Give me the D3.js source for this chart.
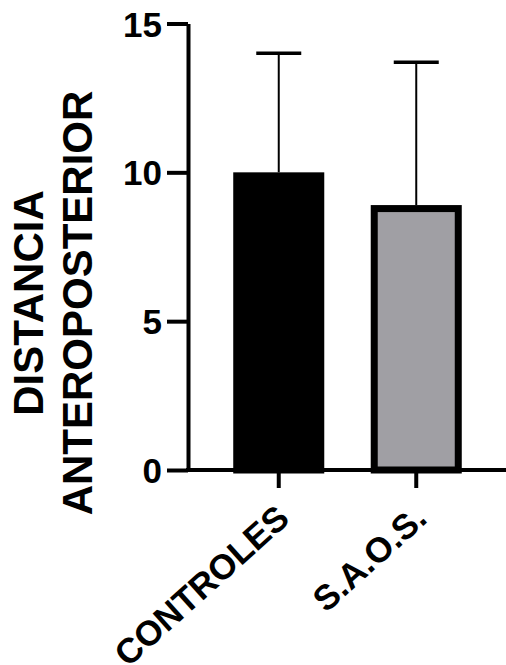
<!DOCTYPE html>
<html>
<head>
<meta charset="utf-8">
<script src="https://cdn.jsdelivr.net/npm/d3@7"></script>
<style>
body { margin: 0; background: #fff; }
text { font-family: "Liberation Sans", Arial, sans-serif; font-weight: bold; fill: #000; }
</style>
</head>
<body>
<div id="chart"></div>
<script>
var groups = ["CONTROLES", "S.A.O.S."];
var means = [10.0, 8.9];
var sds = [4.0, 4.8];
var fills = ["#000000", "#a09fa4"];
var yTicks = [0, 5, 10, 15];
var titleLines = ["DISTANCIA", "ANTEROPOSTERIOR"];

var svg_size = {w:506, h:665};

var svg = d3.select("#chart")
	.append("svg")
	.attr("width", svg_size.w)
	.attr("height", svg_size.h);

var y = d3.scaleLinear().domain([0, 15]).range([470, 23.5]);
var x = d3.scaleBand()
	.domain(groups)
	.range([210, 485])
	.paddingInner(0.338)
	.paddingOuter(0.169);

var data = groups.map(function(g, i) {
	return {name: g, mean: means[i], sd: sds[i], fill: fills[i]};
});

var bw = 7; // border of the bars, drawn inside

// bars
svg.selectAll("rect.bar")
	.data(data).enter()
	.append("rect")
	.attr("class", "bar")
	.attr("x", function(d) { return x(d.name) + bw/2; })
	.attr("y", function(d) { return y(d.mean) + bw/2; })
	.attr("width", x.bandwidth() - bw)
	.attr("height", function(d) { return y(0) - y(d.mean) - bw/2; })
	.attr("fill", function(d) { return d.fill; })
	.attr("stroke", "#000")
	.attr("stroke-width", bw);

// error bars (upper only)
svg.selectAll("line.err")
	.data(data).enter()
	.append("line")
	.attr("x1", function(d) { return x(d.name) + x.bandwidth()/2; })
	.attr("x2", function(d) { return x(d.name) + x.bandwidth()/2; })
	.attr("y1", function(d) { return y(d.mean); })
	.attr("y2", function(d) { return y(d.mean + d.sd); })
	.attr("stroke", "#000")
	.attr("stroke-width", 2);

svg.selectAll("line.cap")
	.data(data).enter()
	.append("line")
	.attr("x1", function(d) { return x(d.name) + x.bandwidth()/2 - 22.5; })
	.attr("x2", function(d) { return x(d.name) + x.bandwidth()/2 + 22.5; })
	.attr("y1", function(d) { return y(d.mean + d.sd); })
	.attr("y2", function(d) { return y(d.mean + d.sd); })
	.attr("stroke", "#000")
	.attr("stroke-width", 3.5);

// y axis
var yAxis = svg.append("g")
	.attr("transform", "translate(188,0)")
	.call(d3.axisLeft(y).tickValues(yTicks).tickSize(21).tickSizeOuter(0).tickPadding(5));
yAxis.select(".domain").attr("stroke-width", 4);
yAxis.selectAll(".tick line").attr("stroke-width", 4);
yAxis.selectAll(".tick text")
	.style("font-size", "35px")
	.attr("dy", "0.36em");

// x axis
var xAxis = svg.append("g")
	.attr("transform", "translate(0," + y(0) + ")")
	.call(d3.axisBottom(x).tickSize(18).tickSizeOuter(0));
xAxis.select(".domain")
	.attr("d", "M186,0H506")
	.attr("stroke-width", 4);
xAxis.selectAll(".tick line").attr("stroke-width", 4);
xAxis.selectAll(".tick text")
	.style("font-size", "35px")
	.attr("text-anchor", "end")
	.attr("dy", null)
	.attr("y", 0)
	.attr("transform", "translate(12.5,51) rotate(-42)");

// y title
var title = svg.append("text")
	.attr("transform", "translate(0,303) rotate(-90)")
	.attr("text-anchor", "middle")
	.style("font-size", "42px");
title.selectAll("tspan")
	.data(titleLines).enter()
	.append("tspan")
	.attr("x", 0)
	.attr("y", function(d, i) { return 43 + i*49; })
	.text(function(d) { return d; });
</script>
</body>
</html>
